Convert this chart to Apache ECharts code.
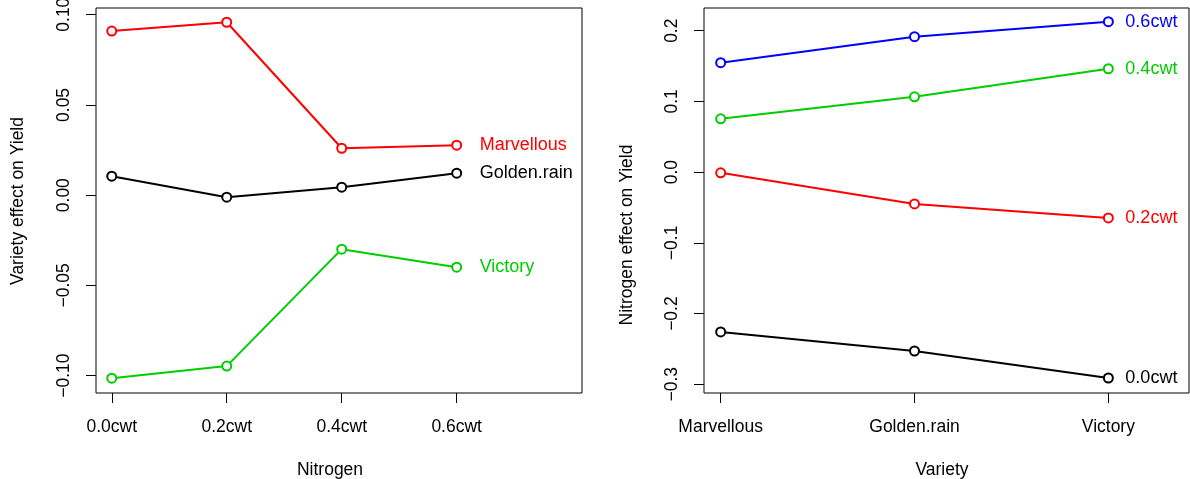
<!DOCTYPE html>
<html><head><meta charset="utf-8">
<script src="https://cdn.jsdelivr.net/npm/echarts@6/dist/echarts.min.js"></script>
<style>html,body{margin:0;padding:0;background:#fff}#c{width:1190px;height:479px}</style>
</head><body><div id="c"></div>
<script>
// ---- data ----
const nitrogenLevels = ['0.0cwt', '0.2cwt', '0.4cwt', '0.6cwt'];
const varieties = ['Marvellous', 'Golden.rain', 'Victory'];
// left panel: variety effect on yield, by nitrogen level
const marvellousEffect = [0.0909, 0.0958, 0.0260, 0.0277];
const goldenRainEffect = [0.0105, -0.0011, 0.0044, 0.0122];
const victoryEffect = [-0.1014, -0.0947, -0.0299, -0.0399];
// right panel: nitrogen effect on yield, by variety
const n00Effect = [-0.2260, -0.2529, -0.2911];
const n02Effect = [-0.0010, -0.0449, -0.0647];
const n04Effect = [0.0754, 0.1065, 0.1462];
const n06Effect = [0.1548, 0.1916, 0.2127];
const leftYTicks = [-0.10, -0.05, 0.00, 0.05, 0.10];
const rightYTicks = [-0.3, -0.2, -0.1, 0.0, 0.1, 0.2];

const FONT = 'Liberation Sans, Arial, Helvetica, sans-serif';
const FS = 17.5;
const C = {black: '#000000', red: '#FF0000', green: '#00CD00', blue: '#0000FF'};
const fmtMinus = (s) => s.replace('-', '\u2212');

function mkSeries(name, vals, color, xIdx) {
  return {
    name: name, type: 'line', xAxisIndex: xIdx, yAxisIndex: xIdx,
    data: vals.map((v, i) => [i + 1, v]),
    symbol: 'emptyCircle', symbolSize: 9,
    lineStyle: {color: color, width: 2},
    itemStyle: {color: color, borderColor: color, borderWidth: 2},
    endLabel: {show: true, formatter: name, color: color, fontFamily: FONT, fontSize: 18, distance: xIdx === 0 ? 23 : 17},
    emphasis: {disabled: true}, silent: true
  };
}

const axisCommon = {
  axisLine: {show: false, onZero: false},
  axisTick: {show: true, inside: false, length: 10, lineStyle: {color: '#000', width: 1}},
  splitLine: {show: false},
  axisLabel: {color: '#000', fontFamily: FONT, fontSize: FS}
};

const gridCommon = {show: true, borderColor: '#000', borderWidth: 1, backgroundColor: 'transparent',
  containLabel: false, outerBoundsMode: 'none'};

const option = {
  animation: false,
  backgroundColor: '#fff',
  grid: [
    Object.assign({left: 96, top: 8, width: 486, height: 385}, gridCommon),
    Object.assign({left: 704, top: 8, width: 485, height: 385}, gridCommon)
  ],
  xAxis: [
    Object.assign({}, axisCommon, {
      type: 'value', gridIndex: 0, min: 0.863, max: 5.09,
      axisTick: Object.assign({}, axisCommon.axisTick, {customValues: nitrogenLevels.map((_, i) => i + 1)}),
      axisLabel: Object.assign({}, axisCommon.axisLabel, {margin: 25, customValues: nitrogenLevels.map((_, i) => i + 1),
        formatter: (v) => nitrogenLevels[Math.round(v) - 1] || ''})
    }),
    Object.assign({}, axisCommon, {
      type: 'value', gridIndex: 1, min: 0.914, max: 3.416,
      axisTick: Object.assign({}, axisCommon.axisTick, {customValues: varieties.map((_, i) => i + 1)}),
      axisLabel: Object.assign({}, axisCommon.axisLabel, {margin: 25, customValues: varieties.map((_, i) => i + 1),
        formatter: (v) => varieties[Math.round(v) - 1] || ''})
    })
  ],
  yAxis: [
    Object.assign({}, axisCommon, {
      type: 'value', gridIndex: 0, min: -0.1096, max: 0.1037,
      axisTick: Object.assign({}, axisCommon.axisTick, {customValues: leftYTicks}),
      axisLabel: Object.assign({}, axisCommon.axisLabel, {rotate: 90, margin: 23, customValues: leftYTicks,
        formatter: (v) => fmtMinus(v.toFixed(2))})
    }),
    Object.assign({}, axisCommon, {
      type: 'value', gridIndex: 1, min: -0.3123, max: 0.2321,
      axisTick: Object.assign({}, axisCommon.axisTick, {customValues: rightYTicks}),
      axisLabel: Object.assign({}, axisCommon.axisLabel, {rotate: 90, margin: 23, customValues: rightYTicks,
        formatter: (v) => fmtMinus(v.toFixed(1))})
    })
  ],
  series: [
    mkSeries('Golden.rain', goldenRainEffect, C.black, 0),
    mkSeries('Marvellous', marvellousEffect, C.red, 0),
    mkSeries('Victory', victoryEffect, C.green, 0),
    mkSeries('0.0cwt', n00Effect, C.black, 1),
    mkSeries('0.2cwt', n02Effect, C.red, 1),
    mkSeries('0.4cwt', n04Effect, C.green, 1),
    mkSeries('0.6cwt', n06Effect, C.blue, 1)
  ],
  graphic: [
    {type: 'text', x: 330, y: 470, style: {text: 'Nitrogen', fill: '#000', font: FS + 'px ' + FONT, textAlign: 'center', textVerticalAlign: 'middle'}},
    {type: 'text', x: 942, y: 470, style: {text: 'Variety', fill: '#000', font: FS + 'px ' + FONT, textAlign: 'center', textVerticalAlign: 'middle'}},
    {type: 'text', x: 18, y: 201, rotation: Math.PI / 2, style: {text: 'Variety effect on Yield', fill: '#000', font: FS + 'px ' + FONT, textAlign: 'center', textVerticalAlign: 'middle'}},
    {type: 'text', x: 627, y: 235, rotation: Math.PI / 2, style: {text: 'Nitrogen effect on Yield', fill: '#000', font: FS + 'px ' + FONT, textAlign: 'center', textVerticalAlign: 'middle'}}
  ]
};
const chart = echarts.init(document.getElementById('c'), null, {renderer: 'canvas'});
chart.setOption(option);
</script></body></html>
